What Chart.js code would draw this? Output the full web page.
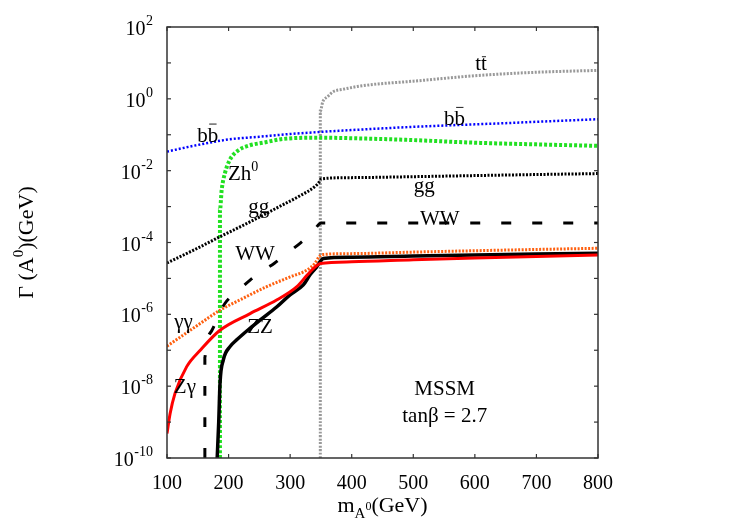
<!DOCTYPE html>
<html>
<head>
<meta charset="utf-8">
<script src="https://cdn.jsdelivr.net/npm/chart.js@4"></script>
<style>
html, body { margin: 0; padding: 0; background: #fff; }
canvas { display: block; }
</style>
</head>
<body>
<canvas id="width-chart" width="750" height="525" style="width:750px;height:525px"></canvas>
<script>
// m_A (GeV) -> partial width (GeV)
const ttX = [349, 349, 353, 361, 370, 386, 409, 443, 500, 600, 700, 800]
const ttY = [1e-10, 0.45, 0.83, 1.15, 1.58, 1.84, 2.2, 2.6, 3.1, 4.4, 5.5, 6.2]

const bbX = [100, 150, 200, 250, 300, 350, 400, 500, 600, 650, 700, 800]
const bbY = [0.034, 0.052, 0.074, 0.088, 0.105, 0.12, 0.135, 0.166, 0.195, 0.21, 0.23, 0.27]

const zhX = [186, 186, 188.8, 194, 202, 216, 235, 256, 288, 348, 400, 500, 600, 700, 800]
const zhY = [1e-10, 7.9e-4, 2.9e-3, 8.4e-3, 0.020, 0.037, 0.051, 0.060, 0.076, 0.083, 0.080, 0.071, 0.060, 0.054, 0.049]

const ggX = [100, 150, 186, 220, 251, 280, 316, 340, 347, 350, 400, 500, 600, 700, 800]
const ggY = [2.7e-5, 7.0e-5, 1.45e-4, 2.8e-4, 5.2e-4, 9.5e-4, 2.0e-3, 3.6e-3, 4.8e-3, 5.9e-3, 6.4e-3, 6.8e-3, 7.3e-3, 7.8e-3, 8.3e-3]

const wwX = [161.5, 161.5, 163, 167, 173, 185, 194, 215, 235, 255, 275, 295, 316, 335, 351, 800]
const wwY = [1e-10, 6e-8, 1.3e-7, 2.4e-7, 3.6e-7, 1.0e-6, 2.0e-6, 4.5e-6, 9e-6, 1.6e-5, 2.7e-5, 5e-5, 9.5e-5, 1.8e-4, 3.5e-4, 3.5e-4]

const zzX = [181.5, 184, 186.1, 191.5, 202.3, 213.2, 234.8, 251, 278, 299.8, 321.4, 332.3, 343.1, 349, 354, 400, 500, 600, 700, 800]
const zzY = [1e-10, 1e-9, 1.2e-8, 5.4e-8, 1.26e-7, 1.95e-7, 4.1e-7, 6.9e-7, 1.6e-6, 3.5e-6, 6.6e-6, 1.26e-5, 2.1e-5, 3.0e-5, 3.6e-5, 3.9e-5, 4.2e-5, 4.5e-5, 4.8e-5, 5.0e-5]

const gamgamX = [100, 150, 186, 220, 262, 300, 327, 340, 347, 352, 400, 500, 600, 700, 800]
const gamgamY = [1.3e-7, 5.0e-7, 1.3e-6, 2.6e-6, 5.9e-6, 1.1e-5, 1.7e-5, 2.6e-5, 4.0e-5, 4.6e-5, 4.9e-5, 5.4e-5, 5.9e-5, 6.4e-5, 6.9e-5]

const zgamX = [100, 105, 113, 132, 154, 186, 235, 278, 311, 327, 338, 349, 400, 500, 600, 700, 800]
const zgamY = [4.8e-10, 1.7e-9, 6.3e-9, 3.5e-8, 1.0e-7, 3.6e-7, 1.05e-6, 2.5e-6, 5.9e-6, 1.2e-5, 1.9e-5, 2.6e-5, 2.9e-5, 3.3e-5, 3.7e-5, 4.1e-5, 4.5e-5]

const xTicks = [100, 200, 300, 400, 500, 600, 700, 800]
const yDecades = [-10, -9, -8, -7, -6, -5, -4, -3, -2, -1, 0, 1, 2]
const yLabelled = [-10, -8, -6, -4, -2, 0, 2]

// curve names, written at (m_A, width) in data units
const tags = [
  [[['t', ''], ['t', 'bar']], 610, 6.3, 'center'],
  [[['b', ''], ['b', 'bar']], 567, 0.186, 'center'],
  [[['b', ''], ['b', 'bar']], 166, 0.064, 'center'],
  [[['Zh', ''], ['0', 'sup']], 199, 5.5e-3, 'left'],
  [[['gg', '']], 249, 6.6e-4, 'center'],
  [[['gg', '']], 518, 2.5e-3, 'center'],
  [[['WW', '']], 243, 3.2e-5, 'center'],
  [[['WW', '']], 543, 3.1e-4, 'center'],
  [[['γγ', '']], 127, 4.2e-7, 'center'],
  [[['ZZ', '']], 251, 3e-7, 'center'],
  [[['Zγ', '']], 129, 6.5e-9, 'center'],
  [[['MSSM', '']], 551, 5.6e-9, 'center'],
  [[['tanβ = 2.7', '']], 551, 1.0e-9, 'center']
]

const FAM = '"Liberation Serif", "Times New Roman", serif'

function rich(ctx, parts, x, y, size, align) {
  const fontFor = k => (k === 'sup' || k === 'sub' ? Math.round(size * 0.68) : k === 'ss' ? Math.round(size * 0.55) : size) + 'px ' + FAM
  let w = 0
  const ws = parts.map(([t, k]) => { ctx.font = fontFor(k); const m = ctx.measureText(t).width; w += m; return m })
  let cx = align === 'center' ? x - w / 2 : align === 'right' ? x - w : x
  ctx.textAlign = 'left'
  ctx.textBaseline = 'alphabetic'
  parts.forEach(([t, k], i) => {
    ctx.font = fontFor(k)
    const dy = k === 'sup' ? -size * 0.45 : k === 'sub' ? size * 0.25 : k === 'ss' ? -size * 0.08 : 0
    ctx.fillText(t, cx, y + dy)
    if (k === 'bar') {
      const by = y - size * (t === 't' ? 0.64 : 0.84)
      ctx.save()
      ctx.lineWidth = 1.1
      ctx.beginPath()
      ctx.moveTo(cx + ws[i] * 0.15, by)
      ctx.lineTo(cx + ws[i] * 0.85, by)
      ctx.stroke()
      ctx.restore()
    }
    cx += ws[i]
  })
}

const overlay = {
  id: 'overlay',
  afterDatasetsDraw(chart) {
    const { ctx, chartArea: a, scales: { x, y } } = chart
    ctx.save()
    ctx.fillStyle = '#000'
    ctx.strokeStyle = '#333'
    const line = (x1, y1, x2, y2) => { ctx.beginPath(); ctx.moveTo(x1, y1); ctx.lineTo(x2, y2); ctx.stroke() }

    ctx.lineWidth = 1.5
    ctx.strokeRect(a.left, a.top, a.right - a.left, a.bottom - a.top)
    ctx.lineWidth = 1.2
    xTicks.forEach(v => {
      const px = x.getPixelForValue(v)
      line(px, a.bottom, px, a.bottom - 4)
      line(px, a.top, px, a.top + 4)
    })
    yDecades.forEach(e => {
      const py = y.getPixelForValue(Math.pow(10, e))
      line(a.left, py, a.left + 4, py)
      line(a.right, py, a.right - 4, py)
    })

    // tick labels
    ctx.textBaseline = 'alphabetic'
    xTicks.forEach(v => {
      ctx.font = '20px ' + FAM
      ctx.textAlign = 'center'
      ctx.fillText(String(v), x.getPixelForValue(v), 489)
    })
    yLabelled.forEach(e => {
      const py = y.getPixelForValue(Math.pow(10, e))
      ctx.font = '14px ' + FAM
      const ex = String(e)
      const ew = ctx.measureText(ex).width
      ctx.textAlign = 'left'
      ctx.fillText(ex, 153 - ew, py - 2)
      ctx.font = '20px ' + FAM
      ctx.textAlign = 'right'
      ctx.fillText('10', 153 - ew - 0.5, py + 8)
    })

    // axis titles
    rich(ctx, [['m', ''], ['A', 'sub'], ['0', 'ss'], ['(GeV)', '']], (a.left + a.right) / 2, 512, 22, 'center')
    ctx.save()
    ctx.translate(33, (a.top + a.bottom) / 2)
    ctx.rotate(-Math.PI / 2)
    rich(ctx, [['Γ (A', ''], ['0', 'sup'], [')(GeV)', '']], 0, 0, 22, 'center')
    ctx.restore()

    // curve names
    tags.forEach(([parts, vx, vy, al]) => {
      rich(ctx, parts, x.getPixelForValue(vx), y.getPixelForValue(vy), 21, al)
    })
    ctx.restore()
  }
}

const curve = (xs, ys, color, width, dash) => ({
  data: xs.map((v, i) => ({ x: v, y: ys[i] })),
  borderColor: color,
  borderWidth: width,
  borderDash: dash,
  showLine: true,
  pointRadius: 0,
  fill: false,
  cubicInterpolationMode: 'monotone'
})

const widthChart = new Chart(document.getElementById('width-chart'), {
  type: 'scatter',
  data: {
    datasets: [
      curve(zgamX, zgamY, '#ff0000', 3, []),
      curve(zzX, zzY, '#000000', 3.5, []),
      curve(gamgamX, gamgamY, '#ff6010', 3, [2, 1.5]),
      curve(wwX, wwY, '#000000', 3, [10, 21]),
      curve(ggX, ggY, '#000000', 3, [2, 1.5]),
      curve(bbX, bbY, '#0000ff', 2.5, [2, 2]),
      curve(zhX, zhY, '#22e022', 4, [3, 2]),
      curve(ttX, ttY, '#999999', 3, [2, 1.5])
    ]
  },
  options: {
    responsive: false,
    animation: false,
    layout: { padding: { left: 0, top: 27, right: 152, bottom: 0 } },
    plugins: { legend: { display: false }, tooltip: { enabled: false } },
    scales: {
      x: {
        type: 'linear', min: 100, max: 800,
        ticks: { display: false }, grid: { display: false }, border: { display: false },
        afterFit: s => { s.height = 67 }
      },
      y: {
        type: 'logarithmic', min: 1e-10, max: 100,
        ticks: { display: false }, grid: { display: false }, border: { display: false },
        afterFit: s => { s.width = 167 }
      }
    }
  },
  plugins: [overlay]
})
</script>
</body>
</html>
